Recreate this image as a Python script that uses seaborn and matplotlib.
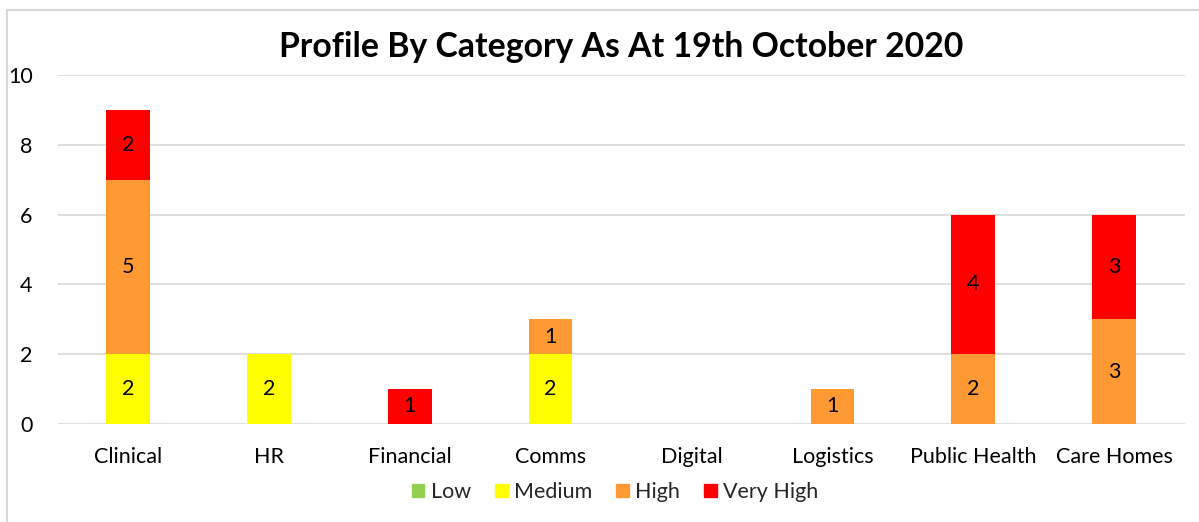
import matplotlib.pyplot as plt
import matplotlib.lines as mlines
import matplotlib.patches as mpatches
import numpy as np
import pandas as pd
import seaborn as sns

categories = ['Clinical', 'HR', 'Financial', 'Comms', 'Digital', 'Logistics',
              'Public Health', 'Care Homes']
low = [0, 0, 0, 0, 0, 0, 0, 0]
medium = [2, 2, 0, 2, 0, 0, 0, 0]
high = [5, 0, 0, 1, 0, 1, 2, 3]
very_high = [2, 0, 1, 0, 0, 0, 4, 3]

levels = ['Low', 'Medium', 'High', 'Very High']
colours = ['#92d050', '#ffff00', '#ff9933', '#ff0000']

sns.set_theme(style='white')
plt.rcParams['font.family'] = ['Lato', 'DejaVu Sans']

df = pd.DataFrame({'Category': categories, 'Low': low, 'Medium': medium,
                   'High': high, 'Very High': very_high})

fig = plt.figure(figsize=(11.99, 5.22), dpi=100)
ax = fig.add_axes([0.048, 0.188, 0.940, 0.668])

fs = 15.5
bottom = np.zeros(len(categories))
for level, colour in zip(levels, colours):
    vals = df[level].to_numpy()
    sns.barplot(data=df, x='Category', y=level, order=categories, color=colour,
                width=0.31, bottom=bottom, ax=ax, saturation=1, linewidth=0,
                zorder=3)
    cont = ax.containers[-1]
    ax.bar_label(cont, labels=['' if v == 0 else str(v) for v in vals],
                 label_type='center', fontsize=fs, color='black')
    bottom = bottom + vals

ax.set_ylim(0, 10)
ax.set_xlim(-0.5, len(categories) - 0.5)
ax.set_yticks(range(0, 11, 2))
ax.grid(axis='y', color='#d9d9d9', lw=1.2, zorder=0)
ax.set_axisbelow(True)
for s in ax.spines.values():
    s.set_visible(False)
ax.tick_params(axis='both', length=0, labelsize=fs, colors='black')
ax.tick_params(axis='x', pad=17)
ax.tick_params(axis='y', pad=18)
ax.set_xlabel('')
ax.set_ylabel('')

ax.set_title('Profile By Category As At 19th October 2020', fontsize=24.3,
             fontweight='bold', pad=13, color='black')

handles = [mpatches.Patch(color=c, label=l) for l, c in zip(levels, colours)]
fig.legend(handles=handles, loc='center', bbox_to_anchor=(0.513, 0.057),
           ncol=4, frameon=False, fontsize=fs, handlelength=0.6,
           handleheight=0.6, handletextpad=0.3, columnspacing=1.1)

# chart border (left and top edges visible)
fig.add_artist(mlines.Line2D([7 / 1199, 7 / 1199], [0, 1 - 10 / 522],
                             color='#d9d9d9', lw=1.5))
fig.add_artist(mlines.Line2D([7 / 1199, 1], [1 - 10 / 522, 1 - 10 / 522],
                             color='#d9d9d9', lw=1.5))

fig.savefig('out.png', dpi=100, facecolor='white')
